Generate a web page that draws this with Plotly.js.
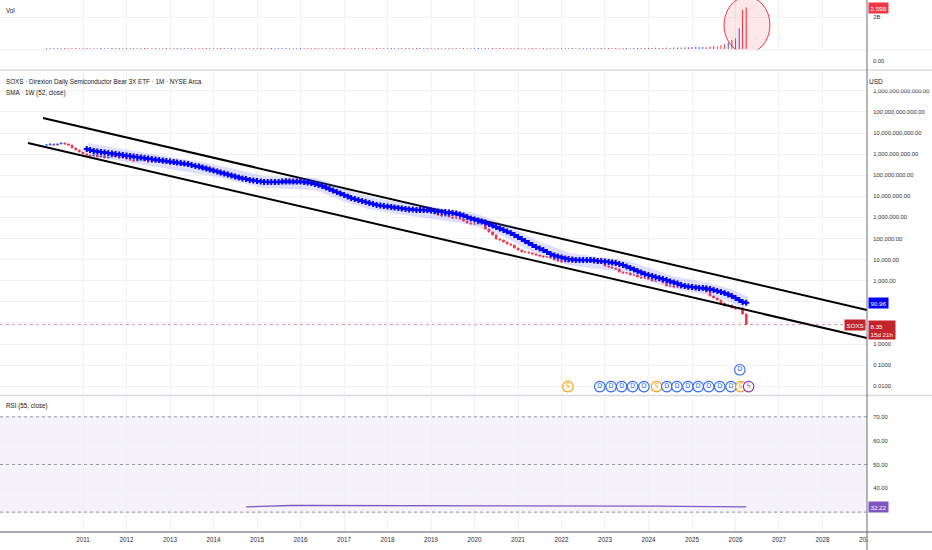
<!DOCTYPE html>
<html><head><meta charset="utf-8">
<script src="https://cdn.plot.ly/plotly-3.0.1.min.js"></script>
<style>html,body{margin:0;padding:0;background:#fff}#chart{width:932px;height:550px}</style>
</head><body><div id="chart"></div>
<script>
// ---------------- DATA ----------------
const priceStart = [2010, 3];           // first monthly candle: March 2010
const closes = [
  2.70e9,3.01e9,2.70e9,3.01e9,3.36e9,3.01e9,2.70e9,1.95e9,1.565e9,1.258e9,
  1.011e9,9.06e8,8.13e8,9.06e8,7.29e8,8.13e8,6.53e8,7.29e8,9.06e8,7.29e8,6.53e8,7.29e8,
  5.86e8,5.25e8,4.71e8,5.25e8,5.86e8,4.71e8,4.22e8,4.22e8,4.71e8,4.22e8,3.79e8,3.79e8,
  3.40e8,3.40e8,3.79e8,3.40e8,3.04e8,3.04e8,2.73e8,2.45e8,2.19e8,1.97e8,1.76e8,1.76e8,
  1.58e8,1.42e8,1.27e8,1.27e8,1.02e8,9.17e7,9.17e7,8.22e7,7.37e7,6.61e7,5.92e7,5.92e7,
  5.31e7,4.76e7,4.76e7,4.27e7,4.27e7,4.76e7,5.31e7,5.92e7,6.61e7,5.92e7,5.31e7,5.92e7,
  6.61e7,5.92e7,4.76e7,4.27e7,3.83e7,3.43e7,2.76e7,2.22e7,1.99e7,1.78e7,1.43e7,1.29e7,
  1.15e7,9.27e6,8.31e6,7.45e6,5.99e6,5.99e6,5.37e6,4.81e6,4.32e6,3.87e6,3.11e6,3.11e6,
  2.79e6,2.79e6,3.11e6,2.79e6,2.50e6,2.50e6,2.24e6,2.24e6,2.01e6,2.50e6,3.11e6,2.24e6,
  1.80e6,1.45e6,1.30e6,1.165e6,1.62e6,1.045e6,9.37e5,9.37e5,8.40e5,6.75e5,5.43e5,4.87e5,
  4.87e5,5.43e5,7.53e5,2.82e5,2.03e5,1.47e5,9.47e4,8.49e4,6.83e4,5.49e4,4.92e4,3.55e4,
  2.85e4,2.29e4,2.29e4,2.06e4,1.84e4,1.65e4,1.48e4,1.33e4,1.33e4,1.19e4,9.57e3,8.58e3,
  7.70e3,8.58e3,7.70e3,9.57e3,8.58e3,1.07e4,7.70e3,1.07e4,1.19e4,7.70e3,6.90e3,6.90e3,
  4.97e3,4.46e3,4.00e3,3.59e3,2.58e3,2.32e3,2.32e3,1.86e3,1.86e3,1.50e3,1.34e3,1.34e3,
  1.20e3,968,968,1.08e3,778,561,561,503,503,451,451,404,
  404,404,451,561,291,188,151,122,87.7,63.2,70.5,50.8,
  45.6,50.8,26.4,8.35
];
const volumes = [
  5e7,4e7,6e7,5e7,5e7,6e7,4e7,5e7,6e7,5e7,
  5e7,6e7,4e7,5e7,5e7,6e7,5e7,4e7,6e7,5e7,
  6e7,5e7,5e7,4e7,6e7,5e7,5e7,6e7,4e7,5e7,
  5e7,4e7,5e7,6e7,5e7,5e7,6e7,4e7,5e7,5e7,
  6e7,5e7,4e7,5e7,6e7,5e7,5e7,4e7,6e7,5e7,
  5e7,6e7,5e7,4e7,5e7,6e7,5e7,5e7,4e7,6e7,
  5e7,5e7,6e7,4e7,5e7,5e7,6e7,5e7,4e7,5e7,
  6e7,5e7,5e7,4e7,6e7,5e7,5e7,6e7,4e7,5e7,
  5e7,4e7,6e7,5e7,5e7,6e7,4e7,5e7,6e7,5e7,
  5e7,6e7,4e7,5e7,5e7,6e7,5e7,4e7,6e7,5e7,
  6e7,5e7,7e7,6e7,5e7,6e7,5e7,4e7,6e7,5e7,
  5e7,6e7,5e7,4e7,5e7,6e7,5e7,5e7,4e7,6e7,
  5e7,6e7,5e7,6e7,5e7,6e7,5e7,4e7,6e7,5e7,
  6e7,5e7,5e7,4e7,6e7,5e7,5e7,6e7,4e7,5e7,
  5e7,4e7,6e7,5e7,5e7,6e7,4e7,5e7,6e7,5e7,
  5e7,6e7,5e7,6e7,5e7,6e7,5e7,6e7,5e7,6e7,
  6e7,5e7,6e7,7e7,6e7,7e7,6e7,7e7,8e7,6e7,
  7e7,8e7,7e7,9e7,8e7,1.0e8,9e7,1.1e8,1.2e8,1.4e8,
  1.3e8,1.2e8,1.1e8,1.5e8,2.0e8,1.6e8,2.3e8,3.0e8,4.0e8,5.6e8,
  6.7e8,1.29e9,2.44e9,2.59e9
];
const smaStart = [2011, 2];             // SMA (1W, 52) first visible month
const smaValues = [
  1.745e9,1.565e9,1.403e9,1.33e9,1.258e9,1.19e9,1.128e9,1.07e9,1.011e9,9.57e8,
  9.06e8,8.58e8,8.13e8,7.70e8,7.29e8,6.90e8,6.53e8,6.19e8,5.86e8,5.55e8,
  5.25e8,4.97e8,4.71e8,4.46e8,4.22e8,4.00e8,3.79e8,3.59e8,3.40e8,3.04e8,
  2.73e8,2.59e8,2.32e8,2.08e8,1.86e8,1.67e8,1.50e8,1.34e8,1.20e8,1.08e8,
  9.67e7,8.68e7,7.78e7,6.98e7,6.61e7,5.92e7,5.61e7,5.31e7,5.03e7,4.76e7,
  4.76e7,4.76e7,4.76e7,4.76e7,5.03e7,5.03e7,5.03e7,5.03e7,5.03e7,5.03e7,
  4.76e7,4.51e7,4.27e7,3.83e7,3.43e7,3.08e7,2.61e7,2.22e7,1.88e7,1.60e7,
  1.36e7,1.15e7,9.77e6,8.31e6,7.45e6,6.68e6,5.99e6,5.37e6,4.81e6,4.32e6,
  3.87e6,3.67e6,3.47e6,3.29e6,3.11e6,2.95e6,2.79e6,2.64e6,2.50e6,2.37e6,
  2.37e6,2.24e6,2.24e6,2.24e6,2.24e6,2.12e6,2.01e6,1.90e6,1.80e6,1.80e6,
  1.71e6,1.62e6,1.53e6,1.37e6,1.23e6,1.045e6,8.87e5,7.95e5,7.13e5,6.39e5,
  5.73e5,4.87e5,4.13e5,3.51e5,2.98e5,2.53e5,2.15e5,1.82e5,1.47e5,1.18e5,
  9.47e4,7.61e4,6.12e4,4.92e4,3.96e4,3.36e4,2.85e4,2.29e4,1.84e4,1.56e4,
  1.40e4,1.26e4,1.13e4,1.07e4,1.01e4,9.57e3,9.57e3,9.57e3,9.57e3,9.57e3,
  9.06e3,8.58e3,8.58e3,8.13e3,7.70e3,7.29e3,6.90e3,6.19e3,5.55e3,4.71e3,
  4.00e3,3.39e3,2.88e3,2.45e3,2.08e3,1.86e3,1.67e3,1.50e3,1.34e3,1.20e3,
  1.08e3,917,822,737,626,561,531,503,476,451,
  451,427,404,362,325,291,261,222,188,151,
  122,97.8,90.96
];
const rsiDates = ['2014-10-01','2015-02-01','2015-06-01','2015-10-01','2016-04-01','2016-10-01','2017-04-01','2017-10-01','2018-04-01','2018-10-01','2019-04-01','2019-10-01','2020-04-01','2020-10-01','2021-04-01','2021-10-01','2022-04-01','2022-10-01','2023-04-01','2023-10-01','2024-04-01','2024-10-01','2025-04-01','2025-10-01','2026-04-01'];
const rsiValues = [32.2,32.5,32.7,32.8,32.8,32.8,32.7,32.6,32.6,32.5,32.5,32.5,32.5,32.5,32.5,32.5,32.5,32.5,32.5,32.5,32.5,32.4,32.4,32.4,32.22];
const eventDates  = ['2022-02-24','2022-11-18','2023-02-21','2023-05-21','2023-08-21','2023-11-24','2024-03-09','2024-06-03','2024-08-27','2024-11-27','2025-02-21','2025-05-21','2025-08-21','2025-11-24','2026-02-15','2026-02-06','2026-04-21'];
const eventTypes  = ['S','D','D','D','D','D','S','D','D','D','D','D','D','D','S','D','E'];
const eventLevels = [0,0,0,0,0,0,0,0,0,0,0,0,0,0,0,1,0];
const upperLineDates = ['2010-01-30','2029-01-09'];
const upperLineValues = [5.14e10, 40.9];
const lowerLineDates = ['2009-09-26','2029-01-09'];
const lowerLineValues = [3.36e9, 1.92];
const yearLabels = ['2011','2012','2013','2014','2015','2016','2017','2018','2019','2020','2021','2022','2023','2024','2025','2026','2027','2028','2029'];
const priceTickValues = [1e-2,1e-1,1,10,100,1e3,1e4,1e5,1e6,1e7,1e8,1e9,1e10,1e11,1e12];
// 10.00 and 100.00 sit under the SOXS / SMA price labels, as in the source
const priceTickLabels = ['0.0100','0.1000','1.0000','','','1,000.00','10,000.00','100,000.00','1,000,000.00','10,000,000.00','100,000,000.00','1,000,000,000.00','10,000,000,000.00','100,000,000,000.00','1,000,000,000,000.00'];
const rsiTickValues = [30,40,50,60,70];
const rsiTickLabels = ['','40.00','50.00','60.00','70.00'];
const volTickValues = [2e9];
const volTickLabels = ['2B'];
const ticker = 'SOXS';
const titleText = 'SOXS · Direxion Daily Semiconductor Bear 3X ETF · 1M · NYSE Arca';
const smaText = 'SMA · 1W (52, close)';
const rsiText = 'RSI (55, close)';
const countdown = '15d 21h';

// ---------------- STYLE ----------------
const FONT = '"Liberation Sans", Arial, sans-serif';
const PLOT_W = 867, PLOT_H = 532;
const py = p => (PLOT_H - p) / PLOT_H;
const pxp = x => x / PLOT_W;
const UP = '#2962ff', DOWN = '#f23645', SMA_C = '#0000ff', LABEL_RED = '#c2242c';
const GRID = '#f0f1f5';
const eventColors = {S:'#ff9800', D:'#2962ff', E:'#9c27b0'};
const eventGlyph = {S:'S', D:'D', E:'ϟ'};
const eventRowY = [0.026, 0.078];

function monthSeries(y, m, n){
  const out = [];
  for (let i = 0; i < n; i++) out.push(new Date(Date.UTC(y, m - 1 + i, 1)).toISOString().slice(0,10));
  return out;
}
const priceDates = monthSeries(priceStart[0], priceStart[1], closes.length);
const smaDates = monthSeries(smaStart[0], smaStart[1], smaValues.length);
const opens = closes.map((c, i) => i === 0 ? c : closes[i-1]);
const highs = closes.map((c, i) => Math.max(c, opens[i]));
const lows  = closes.map((c, i) => Math.min(c, opens[i]));
const volColors = closes.map((c, i) => c >= opens[i] ? UP : DOWN);

const lastClose = closes[closes.length-1];
const lastSma = smaValues[smaValues.length-1];
const lastVol = volumes[volumes.length-1];
const lastRsi = rsiValues[rsiValues.length-1];

const traces = [
  {type:'bar', x:priceDates, y:volumes, xaxis:'x', yaxis:'y2', marker:{color:volColors}, width:9*86400000},
  {type:'scatter', mode:'lines', x:upperLineDates, y:upperLineValues, yaxis:'y', line:{color:'#000', width:2}},
  {type:'scatter', mode:'lines', x:lowerLineDates, y:lowerLineValues, yaxis:'y', line:{color:'#000', width:2}},
  {type:'scatter', mode:'lines', x:smaDates, y:smaValues, yaxis:'y', line:{color:'rgba(90,90,255,0.2)', width:12}},
  {type:'candlestick', x:priceDates, open:opens, high:highs, low:lows, close:closes, yaxis:'y',
    increasing:{line:{color:UP, width:1}, fillcolor:UP},
    decreasing:{line:{color:DOWN, width:1}, fillcolor:DOWN}},
  {type:'scatter', mode:'lines+markers', x:smaDates, y:smaValues, yaxis:'y',
    line:{color:SMA_C, width:2.5}, marker:{symbol:'cross', size:5, color:SMA_C}},
  {type:'scatter', mode:'lines', x:rsiDates, y:rsiValues, yaxis:'y3', line:{color:'#7e57c2', width:1.3}},
  {type:'scatter', mode:'markers+text', x:eventDates, y:eventLevels.map(l => eventRowY[l]), yaxis:'y4',
    text:eventTypes.map(t => eventGlyph[t]), textposition:'middle center', cliponaxis:false,
    textfont:{family:'DejaVu Sans', size:6.5, color:eventTypes.map(t => eventColors[t])},
    marker:{symbol:'circle', size:10.5, color:'#fff', line:{width:1.1, color:eventTypes.map(t => eventColors[t])}}}
];

const axisFont = {family:FONT, size:5.8, color:'#2a2e39'};
const yCommon = {side:'right', anchor:'x', ticks:'outside', ticklen:4, tickcolor:'rgba(0,0,0,0)',
  tickfont:axisFont, gridcolor:GRID, gridwidth:1, zeroline:false, showline:false, fixedrange:true};
const textFont = {family:FONT, size:6.3, color:'#131722'};
const labelFont = {family:FONT, size:6.2, color:'#fff'};

const layout = {
  width:932, height:550, margin:{l:0, r:65, t:0, b:18},
  paper_bgcolor:'#fff', plot_bgcolor:'#fff', showlegend:false, hovermode:false,
  xaxis:{type:'date', range:['2009-02-03','2029-01-09'], anchor:'y3', domain:[0,1],
    tickvals:yearLabels.map(y => y + '-01-01'), ticktext:yearLabels,
    ticks:'outside', ticklen:1, tickcolor:'rgba(0,0,0,0)', tickfont:{family:FONT, size:6.3, color:'#2a2e39'},
    showgrid:true, gridcolor:GRID, zeroline:false, showline:false, rangeslider:{visible:false}},
  yaxis:Object.assign({}, yCommon, {type:'log', domain:[py(395), py(72)], range:[-2.417, 12.891],
    tickvals:priceTickValues, ticktext:priceTickLabels}),
  yaxis2:Object.assign({}, yCommon, {domain:[py(50), 1], range:[-0.0625e9, 3.0625e9],
    tickvals:volTickValues, ticktext:volTickLabels}),
  yaxis3:Object.assign({}, yCommon, {domain:[0, py(397)], range:[21.667, 78.333],
    tickvals:rsiTickValues, ticktext:rsiTickLabels}),
  yaxis4:{overlaying:'y', range:[0,1], visible:false, fixedrange:true},
  shapes:[
    {type:'rect', xref:'paper', yref:'y3', x0:0, x1:1, y0:30, y1:70, fillcolor:'rgba(126,87,194,0.08)', line:{width:0}, layer:'below'},
    ...[70,50,30].map(v => ({type:'line', xref:'paper', yref:'y3', x0:0, x1:1, y0:v, y1:v, line:{color:'#9598a1', width:1, dash:'3px,3px'}})),
    {type:'line', xref:'paper', yref:'y', x0:0, x1:1, y0:lastClose, y1:lastClose, line:{color:'rgba(194,36,44,0.45)', width:1, dash:'dot'}},
    {type:'circle', xref:'x', yref:'y2', x0:'2025-09-26', x1:'2026-10-17', y0:-0.25e9, y1:3.25e9, fillcolor:'rgba(242,54,69,0.12)', line:{color:'#f23645', width:1}},
    {type:'rect', xref:'paper', yref:'paper', x0:1.0005, x1:1.08, y0:-0.04, y1:-0.003, fillcolor:'#fff', line:{width:0}},
    {type:'line', xref:'paper', yref:'paper', x0:0, x1:1.08, y0:py(50), y1:py(50), line:{color:'#eceef2', width:1}},
    {type:'line', xref:'paper', yref:'paper', x0:0, x1:1.08, y0:py(70), y1:py(70), line:{color:'#d9dbe1', width:1.5}},
    {type:'line', xref:'paper', yref:'paper', x0:0, x1:1.08, y0:py(395.5), y1:py(395.5), line:{color:'#d9dbe1', width:1.5}},
    {type:'line', xref:'paper', yref:'paper', x0:0, x1:1.08, y0:0, y1:0, line:{color:'#a9acb5', width:2}},
    {type:'line', xref:'paper', yref:'paper', x0:1, x1:1, y0:-0.04, y1:1, line:{color:'#6a6d78', width:1}}
  ],
  annotations:[
    {xref:'paper', yref:'paper', x:pxp(4), y:py(10), xanchor:'left', yanchor:'middle', text:'Vol', showarrow:false, font:textFont},
    {xref:'paper', yref:'paper', x:pxp(4), y:py(81.5), xanchor:'left', yanchor:'middle', text:titleText, showarrow:false, font:textFont},
    {xref:'paper', yref:'paper', x:pxp(4), y:py(93), xanchor:'left', yanchor:'middle', text:smaText, showarrow:false, font:textFont},
    {xref:'paper', yref:'paper', x:pxp(4), y:py(406), xanchor:'left', yanchor:'middle', text:rsiText, showarrow:false, font:textFont},
    {xref:'paper', yref:'paper', x:1, y:py(81.5), xanchor:'left', yanchor:'middle', xshift:1, text:'USD', showarrow:false, bgcolor:'#fff', width:62, height:15, align:'left', borderpad:0, font:{family:FONT, size:6.5, color:'#131722'}},
    {xref:'paper', yref:'paper', x:1, y:py(61), xanchor:'left', yanchor:'middle', xshift:4, text:'0.00', showarrow:false, font:axisFont},
    {xref:'paper', yref:'y2', x:1, y:lastVol, xanchor:'left', yanchor:'middle', xshift:1, text:(lastVol/1e9).toFixed(2)+'B', showarrow:false, bgcolor:'#f23645', borderpad:1.5, font:labelFont},
    {xref:'paper', yref:'y', x:1, y:Math.log10(lastSma), xanchor:'left', yanchor:'middle', xshift:1, text:lastSma.toFixed(2), showarrow:false, bgcolor:SMA_C, borderpad:1.5, font:labelFont},
    {xref:'paper', yref:'y', x:1, y:Math.log10(lastClose), xanchor:'left', yanchor:'top', yshift:5, xshift:1, text:lastClose.toFixed(2)+'<br>'+countdown, align:'left', showarrow:false, bgcolor:LABEL_RED, borderpad:1.5, font:labelFont},
    {xref:'paper', yref:'y', x:1, y:Math.log10(lastClose), xanchor:'right', yanchor:'middle', xshift:-1, text:ticker, showarrow:false, bgcolor:LABEL_RED, borderpad:1.5, font:labelFont},
    {xref:'paper', yref:'y3', x:1, y:lastRsi, xanchor:'left', yanchor:'middle', xshift:1, text:lastRsi.toFixed(2), showarrow:false, bgcolor:'#7e57c2', borderpad:1.5, font:labelFont}
  ]
};

Plotly.newPlot('chart', traces, layout, {staticPlot:true, displayModeBar:false});
</script>
</body></html>
